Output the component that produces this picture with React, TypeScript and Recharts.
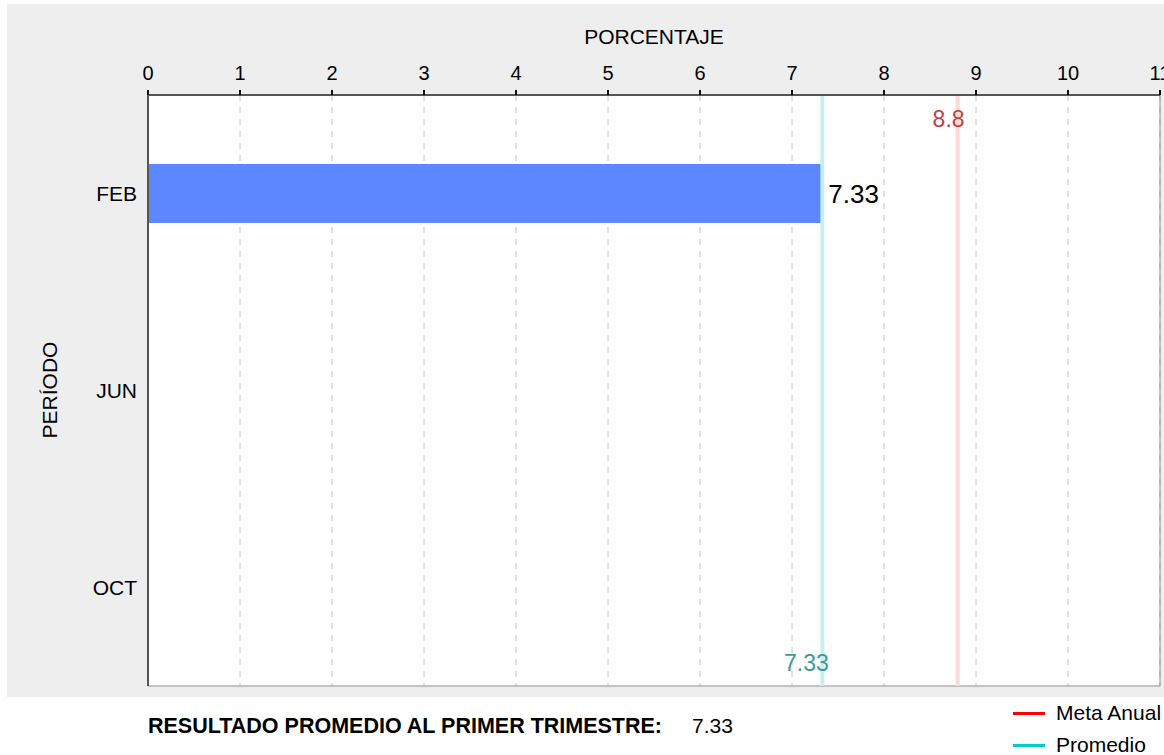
import {
  BarChart,
  Bar,
  XAxis,
  YAxis,
  CartesianGrid,
  ReferenceLine,
  ReferenceArea,
  LabelList,
} from 'recharts';

const periodos = ['FEB', 'JUN', 'OCT'];
const porcentajes: (number | null)[] = [7.33, null, null];
const xTicks = [0, 1, 2, 3, 4, 5, 6, 7, 8, 9, 10, 11];
const metaAnual = 8.8;
const promedio = 7.33;

const data = periodos.map((p, i) => ({ periodo: p, valor: porcentajes[i] }));

const font = '"Liberation Sans", Arial, sans-serif';

export default function App() {
  return (
    <div
      style={{
        position: 'absolute',
        left: 0,
        top: 0,
        width: 1164,
        height: 755,
        overflow: 'hidden',
        background: '#fff',
        fontFamily: font,
      }}
    >
      <div style={{ position: 'absolute', left: 7, top: 4, width: 1200, height: 693, background: '#eeeeee' }}>
        <BarChart
          width={1200}
          height={693}
          data={data}
          layout="vertical"
          margin={{ top: 61, right: 47, left: 0, bottom: 11 }}
          barCategoryGap="35%"
        >
          <CartesianGrid
            horizontal={false}
            fill="#ffffff"
            fillOpacity={1}
            stroke="#c4c4c4"
            strokeDasharray="6 6"
          />
          <XAxis
            type="number"
            orientation="top"
            domain={[0, 11]}
            ticks={xTicks}
            interval={0}
            height={30}
            axisLine={{ stroke: '#555', strokeWidth: 2 }}
            tickLine={{ stroke: '#111', strokeWidth: 2 }}
            tickSize={5}
            tickMargin={10}
            tick={{ fontSize: 20, fill: '#000', fontFamily: font }}
          />
          <YAxis
            type="category"
            dataKey="periodo"
            width={141}
            axisLine={{ stroke: '#555', strokeWidth: 2 }}
            tickLine={false}
            tickMargin={5}
            tick={{ fontSize: 21, fill: '#000', fontFamily: font }}
          />
          <ReferenceArea x1={0} x2={11} fill="none" fillOpacity={0} stroke="#909090" strokeWidth={1} />
          <Bar dataKey="valor" fill="#5c87ff" isAnimationActive={false}>
            <LabelList dataKey="valor" position="right" offset={6} fill="#000" fontSize={26} fontFamily={font} />
          </Bar>
          <ReferenceLine
            x={promedio}
            stroke="#c6eff0"
            strokeWidth={4}
            label={(props: any) => {
              const vb = props.viewBox;
              return (
                <text x={vb.x - 16} y={vb.y + vb.height - 15} textAnchor="middle" fill="#3a9a9a" fontSize={23} fontFamily={font}>
                  {promedio}
                </text>
              );
            }}
          />
          <ReferenceLine
            x={metaAnual}
            stroke="#ffd8d8"
            strokeWidth={4}
            label={(props: any) => {
              const vb = props.viewBox;
              return (
                <text x={vb.x - 9} y={vb.y + 32} textAnchor="middle" fill="#c83c3c" fontSize={23} fontFamily={font}>
                  {metaAnual}
                </text>
              );
            }}
          />
        </BarChart>
      </div>
      <div style={{ position: 'absolute', left: 0, top: 25, width: 1308, textAlign: 'center', fontSize: 21 }}>
        PORCENTAJE
      </div>
      <div
        style={{
          position: 'absolute',
          left: 50,
          top: 390,
          transform: 'translate(-50%, -50%) rotate(-90deg)',
          fontSize: 21,
          whiteSpace: 'nowrap',
        }}
      >
        PERÍODO
      </div>
      <div style={{ position: 'absolute', left: 148, top: 714, fontSize: 21.5, fontWeight: 'bold', whiteSpace: 'nowrap' }}>
        RESULTADO PROMEDIO AL PRIMER TRIMESTRE:
      </div>
      <div style={{ position: 'absolute', left: 692, top: 714, fontSize: 21 }}>{promedio}</div>
      <div style={{ position: 'absolute', left: 1013, top: 700, fontSize: 21, whiteSpace: 'nowrap' }}>
        <div style={{ display: 'flex', alignItems: 'center', height: 26 }}>
          <span style={{ display: 'inline-block', width: 32, height: 3, background: '#ff0000', marginRight: 11 }} />
          Meta Anual
        </div>
        <div style={{ display: 'flex', alignItems: 'center', height: 26, marginTop: 6 }}>
          <span style={{ display: 'inline-block', width: 32, height: 3, background: '#00cccc', marginRight: 11 }} />
          Promedio
        </div>
      </div>
    </div>
  );
}
